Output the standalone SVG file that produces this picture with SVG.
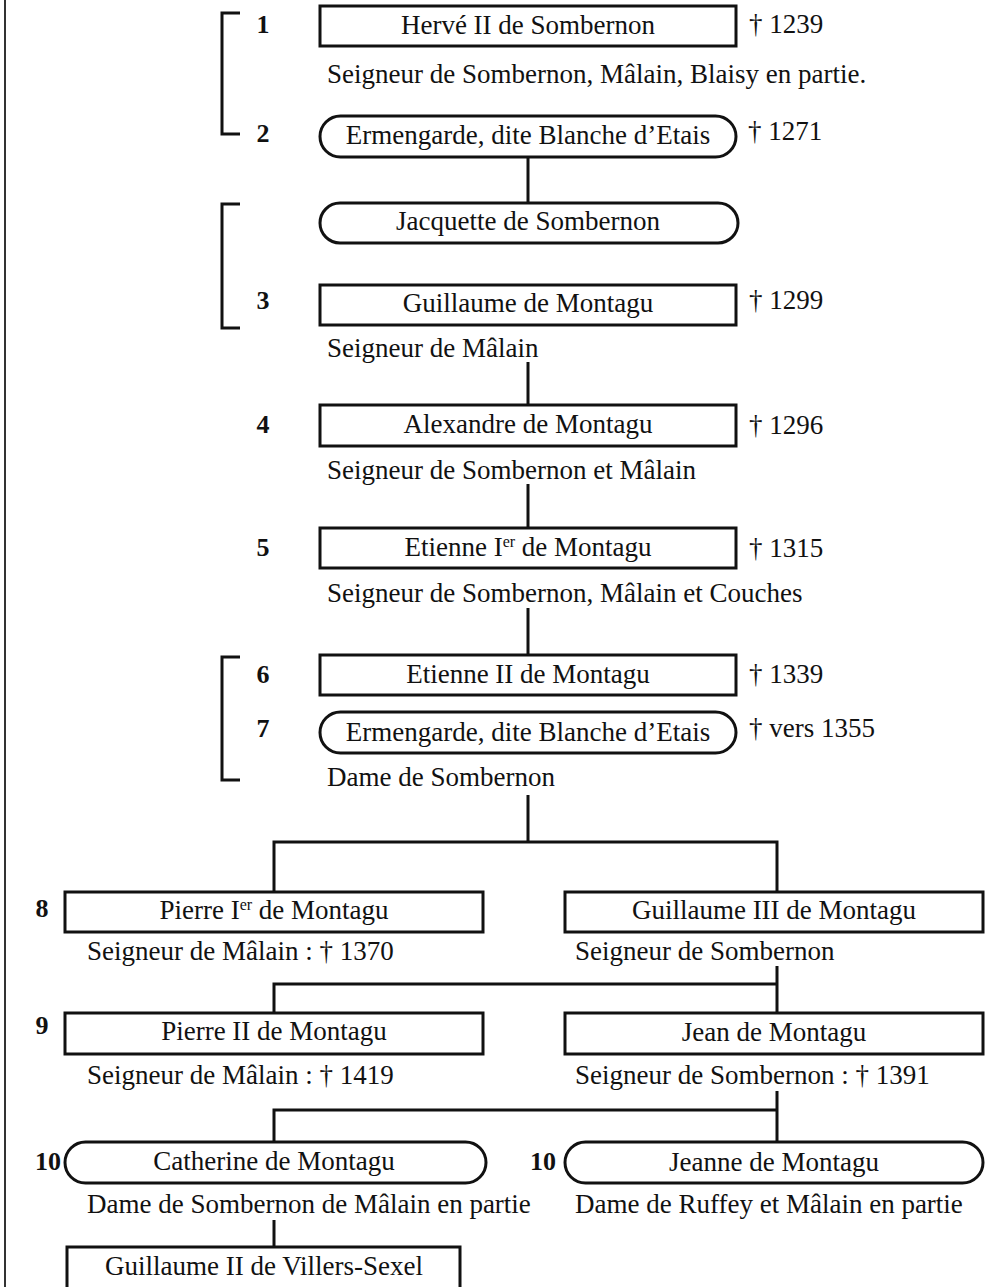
<svg xmlns="http://www.w3.org/2000/svg" width="987" height="1287" viewBox="0 0 987 1287">
<style>
text{font-family:"Liberation Serif","Times New Roman",serif;fill:#111}
.t{font-size:27px;text-anchor:middle}
.s{font-size:27px}
.n{font-size:26px;font-weight:bold;text-anchor:middle}
.box{fill:#fff;stroke:#111;stroke-width:3}
.ln{fill:none;stroke:#111;stroke-width:3}
.sup{font-size:16px}
</style>
<line x1="5" y1="0" x2="5" y2="1287" stroke="#333" stroke-width="2"/>
<g id="brackets">
<path class="ln" d="M240,13 H222 V134 H240"/>
<path class="ln" d="M240,204 H222 V328 H240"/>
<path class="ln" d="M240,657 H222 V780 H240"/>
</g>
<g id="connectors">
<path class="ln" d="M528,157 V203"/>
<path class="ln" d="M528,362 V405"/>
<path class="ln" d="M528,484 V528"/>
<path class="ln" d="M528,608 V655"/>
<path class="ln" d="M528,795 V842 M274,892 V842 H777 V892"/>
<path class="ln" d="M777,966 V1013 M274,1013 V984 H777"/>
<path class="ln" d="M777,1091 V1142 M274,1142 V1110 H777"/>
<path class="ln" d="M274,1220 V1247"/>
</g>
<g id="n1">
<rect class="box" x="320" y="6" width="416" height="40"/>
<text class="t" x="528" y="34">Hervé II de Sombernon</text>
<text class="n" x="263" y="33">1</text>
<text class="s" x="749" y="33">† 1239</text>
<text class="s" x="327" y="83">Seigneur de Sombernon, Mâlain, Blaisy en partie.</text>
</g>
<g id="n2">
<rect class="box" x="320" y="116" width="416" height="41" rx="20.5"/>
<text class="t" x="528" y="144">Ermengarde, dite Blanche d’Etais</text>
<text class="n" x="263" y="142">2</text>
<text class="s" x="748" y="140">† 1271</text>
</g>
<g id="n-jacquette">
<rect class="box" x="320" y="203" width="418" height="40" rx="20"/>
<text class="t" x="528" y="230">Jacquette de Sombernon</text>
</g>
<g id="n3">
<rect class="box" x="320" y="285" width="416" height="40"/>
<text class="t" x="528" y="312">Guillaume de Montagu</text>
<text class="n" x="263" y="309">3</text>
<text class="s" x="749" y="309">† 1299</text>
<text class="s" x="327" y="357">Seigneur de Mâlain</text>
</g>
<g id="n4">
<rect class="box" x="320" y="405" width="416" height="41"/>
<text class="t" x="528" y="433">Alexandre de Montagu</text>
<text class="n" x="263" y="433">4</text>
<text class="s" x="749" y="434">† 1296</text>
<text class="s" x="327" y="479">Seigneur de Sombernon et Mâlain</text>
</g>
<g id="n5">
<rect class="box" x="320" y="528" width="416" height="40"/>
<text class="t" x="528" y="556">Etienne I<tspan class="sup" dy="-9">er</tspan><tspan dy="9"> de Montagu</tspan></text>
<text class="n" x="263" y="556">5</text>
<text class="s" x="749" y="557">† 1315</text>
<text class="s" x="327" y="602">Seigneur de Sombernon, Mâlain et Couches</text>
</g>
<g id="n6">
<rect class="box" x="320" y="655" width="416" height="40"/>
<text class="t" x="528" y="683">Etienne II de Montagu</text>
<text class="n" x="263" y="683">6</text>
<text class="s" x="749" y="683">† 1339</text>
</g>
<g id="n7">
<rect class="box" x="320" y="712" width="416" height="41" rx="20.5"/>
<text class="t" x="528" y="741">Ermengarde, dite Blanche d’Etais</text>
<text class="n" x="263" y="737">7</text>
<text class="s" x="749" y="737">† vers 1355</text>
<text class="s" x="327" y="786">Dame de Sombernon</text>
</g>
<g id="n8">
<rect class="box" x="65" y="892" width="418" height="40"/>
<text class="t" x="274" y="919">Pierre I<tspan class="sup" dy="-9">er</tspan><tspan dy="9"> de Montagu</tspan></text>
<text class="n" x="42" y="917">8</text>
<text class="s" x="87" y="960">Seigneur de Mâlain : † 1370</text>
</g>
<g id="n8b">
<rect class="box" x="565" y="892" width="418" height="40"/>
<text class="t" x="774" y="919">Guillaume III de Montagu</text>
<text class="s" x="575" y="960">Seigneur de Sombernon</text>
</g>
<g id="n9">
<rect class="box" x="65" y="1013" width="418" height="41"/>
<text class="t" x="274" y="1040">Pierre II de Montagu</text>
<text class="n" x="42" y="1034">9</text>
<text class="s" x="87" y="1084">Seigneur de Mâlain : † 1419</text>
</g>
<g id="n9b">
<rect class="box" x="565" y="1013" width="418" height="41"/>
<text class="t" x="774" y="1041">Jean de Montagu</text>
<text class="s" x="575" y="1084">Seigneur de Sombernon : † 1391</text>
</g>
<g id="n10">
<rect class="box" x="65" y="1142" width="421" height="41" rx="20.5"/>
<text class="t" x="274" y="1170">Catherine de Montagu</text>
<text class="n" x="48" y="1170">10</text>
<text class="s" x="87" y="1213">Dame de Sombernon de Mâlain en partie</text>
</g>
<g id="n10b">
<rect class="box" x="565" y="1142" width="418" height="41" rx="20.5"/>
<text class="t" x="774" y="1171">Jeanne de Montagu</text>
<text class="n" x="543" y="1170">10</text>
<text class="s" x="575" y="1213">Dame de Ruffey et Mâlain en partie</text>
</g>
<g id="n11">
<rect class="box" x="67" y="1247" width="393" height="45"/>
<text class="t" x="264" y="1275">Guillaume II de Villers-Sexel</text>
</g>
</svg>
